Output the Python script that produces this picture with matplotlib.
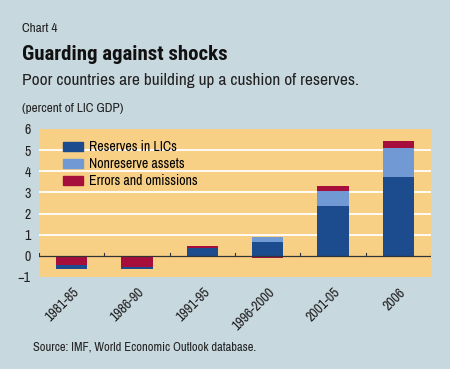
import numpy as np
import matplotlib.pyplot as plt
from matplotlib.patches import Patch

periods = ["1981-85", "1986-90", "1991-95", "1996-2000", "2001-05", "2006"]
reserves = [-0.17, -0.08, 0.38, 0.67, 2.38, 3.71]
nonreserve = [0.0, 0.0, 0.0, 0.21, 0.71, 1.39]
errors = [-0.45, -0.55, 0.09, -0.12, 0.21, 0.32]

bg = "#C8D8DF"
plot_bg = "#F8D085"
c_res = "#1D4C8E"
c_non = "#7199D3"
c_err = "#A60E3C"

narrow = ["Archivo Narrow", "Roboto Condensed", "DejaVu Sans"]
narrow_bold = ["Roboto Condensed", "DejaVu Sans"]

fig = plt.figure(figsize=(4.5, 3.69), dpi=100, facecolor=bg)
ax = fig.add_axes([39 / 450, 1 - 277 / 369, (431 - 39) / 450, (277 - 129) / 369])
ax.set_facecolor(plot_bg)

x = np.arange(len(periods))
w = 0.48
series = {"res": (np.array(reserves), c_res),
          "non": (np.array(nonreserve), c_non),
          "err": (np.array(errors), c_err)}

# positives stack reserves -> nonreserve -> errors upward,
# negatives stack errors first, then reserves, downward
pos_base = np.zeros(len(x))
for key in ["res", "non", "err"]:
    vals, col = series[key]
    v = np.clip(vals, 0, None)
    ax.bar(x, v, w, bottom=pos_base, color=col, zorder=3)
    pos_base = pos_base + v
neg_base = np.zeros(len(x))
for key in ["err", "non", "res"]:
    vals, col = series[key]
    v = np.clip(vals, None, 0)
    ax.bar(x, v, w, bottom=neg_base, color=col, zorder=3)
    neg_base = neg_base + v

ax.set_xlim(-0.5, len(x) - 0.5)
ax.set_ylim(-1, 6)
ax.set_yticks(range(-1, 7))
for yv in range(1, 6):
    ax.axhline(yv, color="white", lw=1.3, zorder=1)
ax.axhline(0, color="#333333", lw=0.9, zorder=4)
for b in np.arange(-0.5, len(x), 1.0):
    ax.plot([b, b], [0, 0.12], color="#333333", lw=0.8, zorder=4)

ax.set_xticks(x)
ax.set_xticklabels(periods, rotation=45, ha="right", rotation_mode="anchor",
                   family=narrow, fontsize=10, color="#222222")
ax.tick_params(axis="x", length=0, pad=6)
ax.tick_params(axis="y", length=0, pad=6, labelsize=10, labelcolor="#222222")
for lab in ax.get_yticklabels():
    lab.set_family(narrow)
for s in ax.spines.values():
    s.set_visible(False)

handles = [Patch(color=c_res, label="Reserves in LICs"),
           Patch(color=c_non, label="Nonreserve assets"),
           Patch(color=c_err, label="Errors and omissions")]
leg = ax.legend(handles=handles, loc="upper left", frameon=False,
                bbox_to_anchor=(0.03, 1.01), handlelength=1.4, handleheight=0.6,
                handletextpad=0.45, labelspacing=0.22,
                prop={"family": narrow, "size": 10})

fig.text(22 / 450, 1 - 29 / 369, "Chart 4", family=narrow, fontsize=9.5,
         va="center", color="#222222")
fig.text(22 / 450, 1 - 55 / 369, "Guarding against shocks", family=narrow_bold,
         fontsize=15, fontweight="bold", va="center", color="#111111")
fig.text(22 / 450, 1 - 81 / 369, "Poor countries are building up a cushion of reserves.",
         family=narrow, fontsize=12.5, va="center", color="#222222")
fig.text(22 / 450, 1 - 108 / 369, "(percent of LIC GDP)", family=narrow,
         fontsize=9.5, va="center", color="#222222")
fig.text(33 / 450, 1 - 347 / 369, "Source: IMF, World Economic Outlook database.",
         family=narrow, fontsize=9, va="center", color="#222222")

fig.savefig("out.png", dpi=100, facecolor=bg)
